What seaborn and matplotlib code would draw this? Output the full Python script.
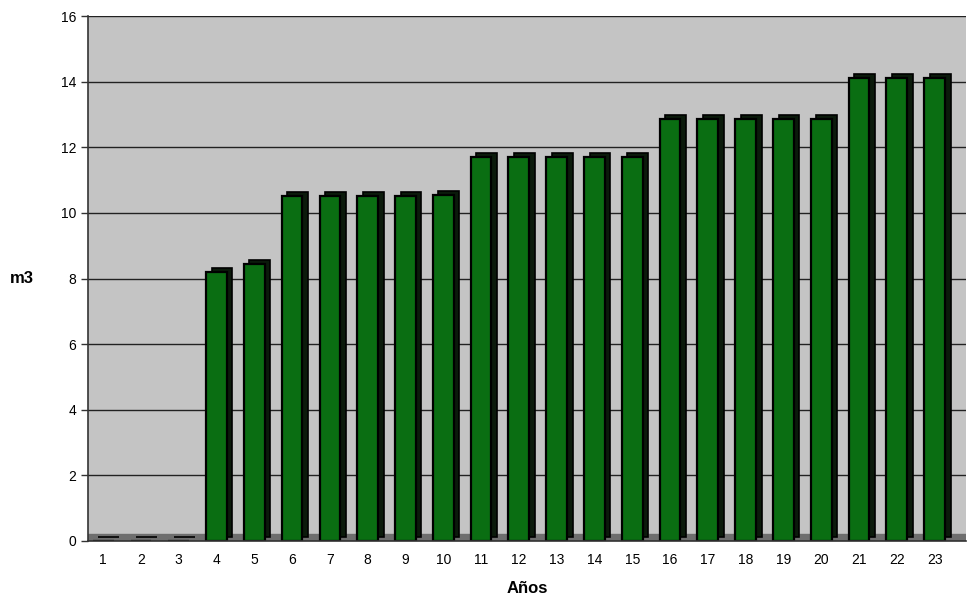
import numpy as np
import pandas as pd
import matplotlib
matplotlib.use('Agg')
import matplotlib.pyplot as plt
import matplotlib.transforms as mtransforms
import seaborn as sns

# ==================== 数据 ====================
anios = [str(i) for i in range(1, 24)]
m3 = [0, 0, 0, 8.2, 8.45, 10.5, 10.5, 10.5, 10.5, 10.55,
      11.7, 11.7, 11.7, 11.7, 11.7, 12.85, 12.85, 12.85, 12.85, 12.85,
      14.1, 14.1, 14.1]

df = pd.DataFrame({'Años': anios, 'm3': m3})

sns.set_style('white')
plt.rcParams['font.family'] = ['Liberation Sans', 'DejaVu Sans']
plt.rcParams['text.color'] = 'black'
plt.rcParams['xtick.color'] = 'black'
plt.rcParams['ytick.color'] = 'black'
plt.rcParams['axes.labelcolor'] = 'black'

fig = plt.figure(figsize=(9.71, 6.11), dpi=100)
ax = fig.add_axes([88 / 971, 70 / 611, 878 / 971, 525 / 611])
ax.set_facecolor('#c4c4c4')

# sombra (cara lateral de la barra 3D)
sns.barplot(data=df, x='Años', y='m3', color='#0b1a0b', width=0.55,
            saturation=1, edgecolor='black', linewidth=1.2, ax=ax)
n_shadow = len(ax.patches)
off = mtransforms.ScaledTranslation(4 / 72, 3 / 72, fig.dpi_scale_trans)
for p in ax.patches[:n_shadow]:
    p.set_transform(ax.transData + off)

# cara frontal
sns.barplot(data=df, x='Años', y='m3', color='#0a6e12', width=0.55,
            saturation=1, edgecolor='black', linewidth=1.6, ax=ax)

# suelo
ax.axhspan(0, 0.22, color='#6e6e6e', zorder=0.5)

ax.set_ylim(0, 16)
ax.set_xlim(-0.4, 22.83)
ax.set_yticks(np.arange(0, 17, 2))
ax.yaxis.grid(True, color='#222222', linewidth=1)
ax.set_axisbelow(True)

ax.set_xticks(np.arange(len(anios)) + 0.5, minor=True)
ax.tick_params(axis='x', which='major', length=0, labelsize=10, pad=9)
ax.tick_params(axis='x', which='minor', length=5, color='#333333', width=1)
ax.tick_params(axis='y', length=5, color='#333333', width=1, labelsize=10, left=True)

for s in ['top', 'right']:
    ax.spines[s].set_visible(False)
for s in ['left', 'bottom']:
    ax.spines[s].set_color('#333333')
    ax.spines[s].set_linewidth(1.2)

ax.set_xlabel('Años', fontsize=12, fontweight='bold', labelpad=10)
ax.set_ylabel('m3', fontsize=12, fontweight='bold', rotation=0, labelpad=28, va='center')

fig.savefig('out.png', dpi=100)
